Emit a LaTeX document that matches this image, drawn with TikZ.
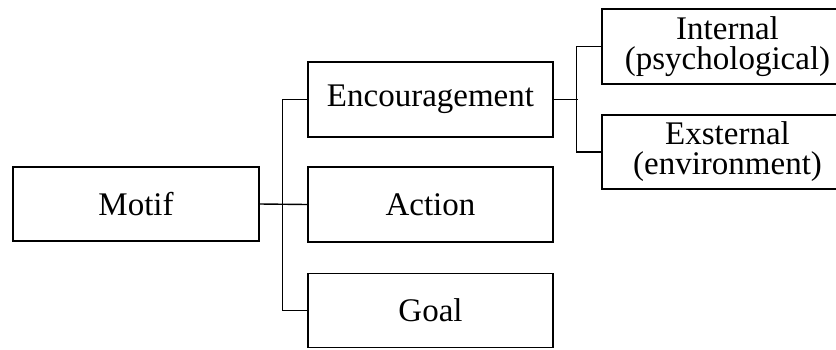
\documentclass[tikz,border=0pt]{standalone}
\usepackage{fontspec}
\setmainfont{Liberation Serif}
\begin{document}
\begin{tikzpicture}[x=1pt,y=-1pt,
  box/.style={draw,line width=1.6pt,rectangle,inner sep=0pt,align=center,
    font=\fontsize{33}{30}\selectfont},
  conn/.style={line width=1.4pt}]
\clip (0,0) rectangle (836,349);
\node[box,minimum width=246pt,minimum height=74pt] (motif) at (136,204) {Motif};
\node[box,minimum width=245pt,minimum height=75pt] (enc) at (430.5,99.5) {Encouragement};
\node[box,minimum width=245pt,minimum height=75pt] (action) at (430.5,204.5) {Action};
\node[box,minimum width=245pt,minimum height=74pt] (goal) at (430.5,310.5) {Goal};
\node[box,minimum width=251pt,minimum height=75pt] (int) at (727.5,46.5) {Internal\\(psychological)};
\node[box,minimum width=251pt,minimum height=74pt] (ext) at (727.5,152) {Exsternal\\(environment)};
\draw[conn] (motif.east) -- (action.west);
\draw[conn] (enc.west) -- ++(-25,0) |- (goal.west);
\draw[conn] (int.west) -- ++(-25,0) |- (ext.west);
\draw[conn] (enc.east) -- ++(24,0);
\end{tikzpicture}
\end{document}
